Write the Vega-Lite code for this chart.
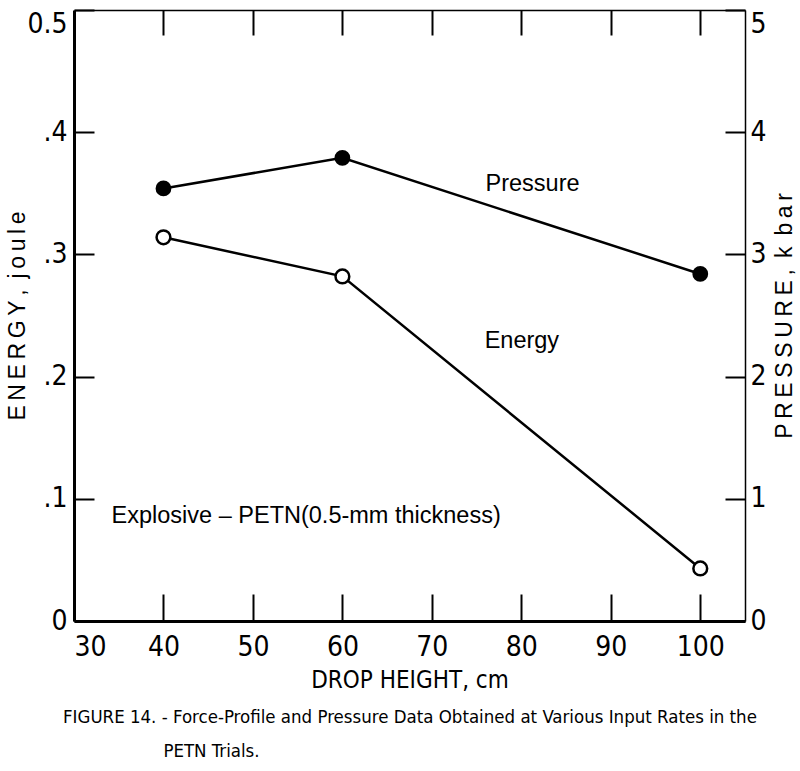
{
  "$schema": "https://vega.github.io/schema/vega-lite/v6.json",
  "autosize": "none",
  "width": 671,
  "height": 611,
  "padding": {"left": 74, "top": 10, "right": 55, "bottom": 150},
  "background": "white",
  "config": {
    "view": {"stroke": null},
    "axis": {"grid": false, "domainColor": "black", "tickColor": "black", "labelColor": "black", "titleColor": "black", "labelFont": "'DejaVu Sans Condensed', 'Liberation Sans Narrow', Roboto, sans-serif", "titleFont": "'Liberation Sans', Arial, sans-serif", "titleFontWeight": "normal", "tickWidth": 2}
  },
  "title": {
    "text": ["FIGURE 14. - Force-Profile and Pressure Data Obtained at Various Input Rates in the", "\u200d\u00a0\u00a0\u00a0\u00a0\u00a0\u00a0\u00a0\u00a0\u00a0\u00a0\u00a0\u00a0\u00a0\u00a0\u00a0\u00a0\u00a0\u00a0\u00a0PETN Trials."],
    "orient": "bottom",
    "anchor": "start",
    "frame": "group",
    "font": "'DejaVu Sans Condensed', 'Liberation Sans Narrow', Roboto, sans-serif",
    "fontSize": 18.5,
    "fontWeight": "normal",
    "color": "black",
    "lineHeight": 34,
    "dx": -11,
    "offset": 16
  },
  "datasets": {
    "energy": [
      {"h": 40, "v": 0.314},
      {"h": 60, "v": 0.282},
      {"h": 100, "v": 0.043}
    ],
    "pressure": [
      {"h": 40, "v": 3.54},
      {"h": 60, "v": 3.79},
      {"h": 100, "v": 2.84}
    ],
    "notes": [
      {"h": 76.0, "v": 0.358, "label": "Pressure"},
      {"h": 75.9, "v": 0.229, "label": "Energy"},
      {"h": 34.2, "v": 0.086, "label": "Explosive – PETN(0.5-mm thickness)"}
    ]
  },
  "layer": [
    {
      "encoding": {
        "x": {
          "field": "h", "type": "quantitative",
          "scale": {"domain": [30, 105], "nice": false, "zero": false},
          "axis": {
            "orient": "bottom", "values": [30, 40, 50, 60, 70, 80, 90, 100],
            "tickSize": -27, "domainWidth": 3, "labelFontSize": 28, "labelPadding": 39,
            "labelAlign": {"condition": {"test": "datum.value == 30", "value": "left"}, "value": "center"},
            "title": "DROP HEIGHT, cm", "titleFont": "'DejaVu Sans Condensed', 'Liberation Sans Narrow', Roboto, sans-serif", "titleFontSize": 24, "titlePadding": 7
          }
        },
        "y": {
          "field": "v", "type": "quantitative",
          "scale": {"domain": [0, 0.5], "nice": false},
          "axis": {
            "orient": "left", "values": [0, 0.1, 0.2, 0.3, 0.4, 0.5],
            "labelExpr": "datum.value == 0 ? '0' : datum.value == 0.5 ? '0.5' : replace(format(datum.value, '.1f'), '0.', '.')",
            "labelBaseline": {"condition": {"test": "datum.value == 0.5", "value": "top"}, "value": "middle"},
            "tickSize": -20, "domainWidth": 3, "labelFontSize": 28, "labelPadding": 27,
            "title": "E\u2009N\u2009E\u2009R\u2009G\u2009Y\u2009,\u2009 j\u2009o\u2009u\u2009l\u2009e", "titleFontSize": 23, "titlePadding": -3
          }
        }
      },
      "layer": [
        {"data": {"name": "energy"}, "mark": {"type": "line", "color": "black", "strokeWidth": 2.5}},
        {"data": {"name": "energy"}, "mark": {"type": "point", "shape": "circle", "filled": true, "fill": "white", "stroke": "black", "strokeWidth": 2.5, "size": 190, "opacity": 1}},
        {"data": {"name": "notes"}, "mark": {"type": "text", "align": "left", "baseline": "middle", "font": "'Liberation Sans', Arial, sans-serif", "fontSize": 23.5, "color": "black"}, "encoding": {"text": {"field": "label"}}}
      ]
    },
    {
      "data": {"name": "pressure"},
      "encoding": {
        "x": {
          "field": "h", "type": "quantitative",
          "scale": {"domain": [30, 105], "nice": false, "zero": false},
          "axis": {"orient": "top", "values": [40, 50, 60, 70, 80, 90, 100], "tickSize": -25, "labels": false, "domainWidth": 1.5, "title": null}
        },
        "y": {
          "field": "v", "type": "quantitative",
          "scale": {"domain": [0, 5], "nice": false},
          "axis": {
            "orient": "right", "values": [0, 1, 2, 3, 4, 5],
            "labelBaseline": {"condition": {"test": "datum.value == 5", "value": "top"}, "value": "middle"},
            "tickSize": -20, "domainWidth": 1.5, "labelFontSize": 28, "labelPadding": 25,
            "title": "P\u2009R\u2009E\u2009S\u2009S\u2009U\u2009R\u2009E\u2009,\u2009 k\u2009 b\u2009a\u2009r", "titleFontSize": 23, "titleAngle": 270, "titlePadding": 30
          }
        }
      },
      "layer": [
        {"mark": {"type": "line", "color": "black", "strokeWidth": 2.5}},
        {"mark": {"type": "point", "shape": "circle", "filled": true, "fill": "black", "stroke": "black", "strokeWidth": 2, "size": 190, "opacity": 1}}
      ]
    }
  ],
  "resolve": {"scale": {"y": "independent"}, "axis": {"x": "independent"}}
}
